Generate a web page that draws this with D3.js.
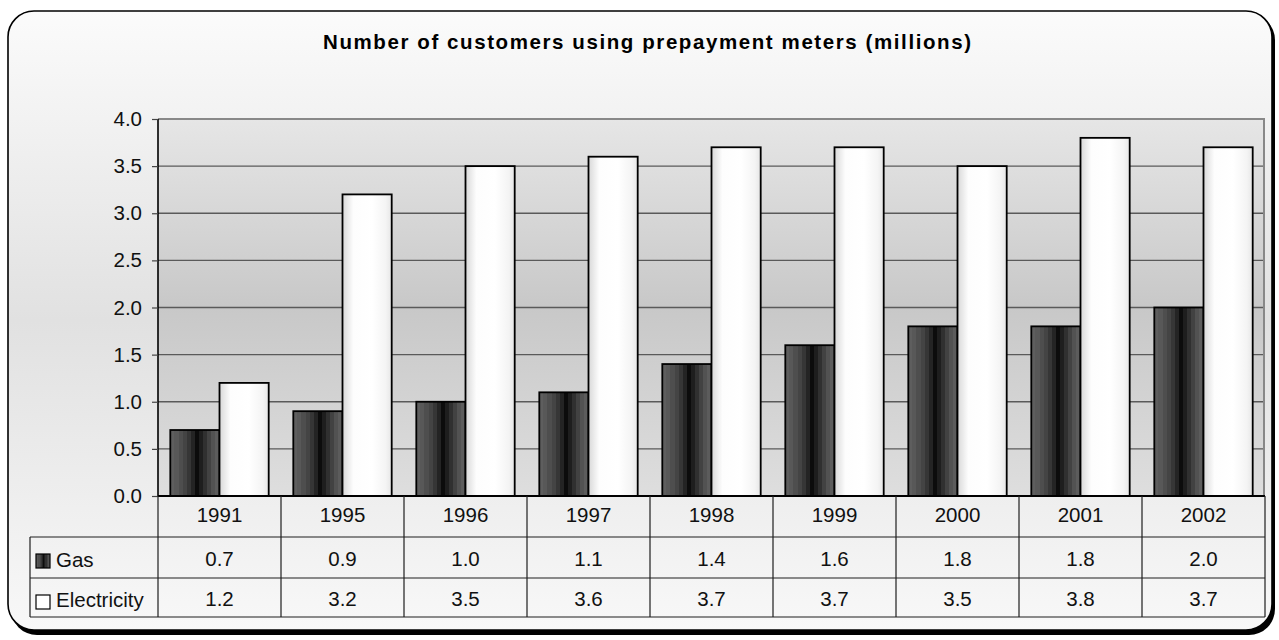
<!DOCTYPE html>
<html>
<head>
<meta charset="utf-8">
<script src="https://cdn.jsdelivr.net/npm/d3@7"></script>
<style>
  html, body { margin: 0; padding: 0; background: #ffffff; }
  svg { display: block; }
  text { font-family: "Liberation Sans", Arial, sans-serif; }
</style>
</head>
<body>
<svg id="chart" width="1279" height="640"></svg>
<script>
// ---------- data ----------
const categories = ["1991", "1995", "1996", "1997", "1998", "1999", "2000", "2001", "2002"];
const gasValues = [0.7, 0.9, 1.0, 1.1, 1.4, 1.6, 1.8, 1.8, 2.0];
const electricityValues = [1.2, 3.2, 3.5, 3.6, 3.7, 3.7, 3.5, 3.8, 3.7];
const seriesNames = ["Gas", "Electricity"];
const yTicks = [0, 0.5, 1.0, 1.5, 2.0, 2.5, 3.0, 3.5, 4.0];
const titleText = "Number of customers using prepayment meters (millions)";

const series = [
  { name: seriesNames[0], values: gasValues, fill: "url(#gasGrad)" },
  { name: seriesNames[1], values: electricityValues, fill: "url(#elecGrad)" }
];

// ---------- layout ----------
const plot = { left: 158, right: 1265, top: 119, bottom: 496 };
const table = { left: 30, rows: [496, 537, 578, 617] };
const FS = 20.5;

const svg = d3.select("#chart");
const defs = svg.append("defs");

function vGrad(id, stops) {
  const g = defs.append("linearGradient").attr("id", id)
    .attr("x1", 0).attr("y1", 0).attr("x2", 0).attr("y2", 1);
  stops.forEach(s => g.append("stop").attr("offset", s[0]).attr("stop-color", s[1]));
}
function hGrad(id, stops) {
  const g = defs.append("linearGradient").attr("id", id)
    .attr("x1", 0).attr("y1", 0).attr("x2", 1).attr("y2", 0);
  stops.forEach(s => g.append("stop").attr("offset", s[0]).attr("stop-color", s[1]));
}
function stepGrad(id, colors) {
  const g = defs.append("linearGradient").attr("id", id)
    .attr("x1", 0).attr("y1", 0).attr("x2", 1).attr("y2", 0);
  const n = colors.length;
  colors.forEach((c, i) => {
    g.append("stop").attr("offset", i / n).attr("stop-color", c);
    g.append("stop").attr("offset", (i + 1) / n).attr("stop-color", c);
  });
}

vGrad("bgGrad", [[0, "#fbfbfb"], [0.5, "#e1e1e1"], [1, "#f8f8f8"]]);
vGrad("plotGrad", [[0, "#e6e6e6"], [0.5, "#c8c8c8"], [1, "#dedede"]]);
stepGrad("gasGrad", ["#5e5e5e", "#585858", "#4e4e4e", "#444444", "#363636", "#242424",
                     "#0c0c0c", "#1e1e1e", "#303030", "#424242", "#525252", "#5c5c5c"]);
hGrad("elecGrad", [[0, "#d8d8d8"], [0.22, "#fdfdfd"], [0.6, "#ffffff"], [0.88, "#f4f4f4"], [1, "#e6e6e6"]]);

// ---------- frame ----------
svg.append("rect").attr("x", 11).attr("y", 14).attr("width", 1264).attr("height", 621)
  .attr("rx", 26).attr("fill", "#000");
svg.append("rect").attr("x", 8).attr("y", 11).attr("width", 1264).attr("height", 619)
  .attr("rx", 26).attr("fill", "url(#bgGrad)").attr("stroke", "#000").attr("stroke-width", 1.6);

// ---------- title ----------
svg.append("text")
  .attr("x", 647).attr("y", 49)
  .attr("text-anchor", "middle")
  .attr("font-size", 20.5).attr("font-weight", "bold").attr("fill", "#000")
  .attr("textLength", 648).attr("lengthAdjust", "spacing")
  .text(titleText);

// ---------- scales ----------
const x = d3.scaleBand().domain(categories).range([plot.left, plot.right]).paddingInner(0).paddingOuter(0);
const x1 = d3.scaleBand().domain(seriesNames).range([0, x.bandwidth()]).paddingInner(0).paddingOuter(0.25);
const y = d3.scaleLinear().domain([0, 4]).range([plot.bottom, plot.top]);

// plot background
svg.append("rect").attr("x", plot.left).attr("y", plot.top)
  .attr("width", plot.right - plot.left).attr("height", plot.bottom - plot.top)
  .attr("fill", "url(#plotGrad)");

// gridlines
svg.append("g").selectAll("line").data(yTicks.filter(t => t > 0)).join("line")
  .attr("x1", plot.left).attr("x2", plot.right)
  .attr("y1", d => y(d)).attr("y2", d => y(d))
  .attr("stroke", "#5a5a5a").attr("stroke-width", 1.3);

// plot border top/right
svg.append("path")
  .attr("d", `M${plot.left},${y(4)}H${plot.right - 1}V${plot.bottom}`)
  .attr("fill", "none").attr("stroke", "#888").attr("stroke-width", 2);

// y axis
const yAxis = svg.append("g").attr("transform", `translate(${plot.left},0)`)
  .call(d3.axisLeft(y).tickValues(yTicks).tickFormat(d3.format(".1f")).tickSize(6).tickPadding(10));
yAxis.select(".domain").attr("stroke", "#000").attr("stroke-width", 1.6).attr("d", `M0,${plot.top}V${plot.bottom}`);
yAxis.selectAll(".tick line").attr("stroke", "#444").attr("stroke-width", 1.2);
yAxis.selectAll(".tick text").attr("font-size", FS).attr("fill", "#111")
  .attr("font-family", "'Liberation Sans', Arial, sans-serif");

// bars
const groups = svg.append("g").selectAll("g").data(series).join("g");
groups.selectAll("rect").data(s => s.values.map((v, i) => ({ name: s.name, fill: s.fill, v, c: categories[i] })))
  .join("rect")
  .attr("x", d => x(d.c) + x1(d.name))
  .attr("width", x1.bandwidth())
  .attr("y", d => y(d.v))
  .attr("height", d => y(0) - y(d.v))
  .attr("fill", d => d.fill)
  .attr("stroke", "#000").attr("stroke-width", 1.8);

// x axis line
svg.append("line").attr("x1", plot.left).attr("x2", plot.right)
  .attr("y1", plot.bottom).attr("y2", plot.bottom)
  .attr("stroke", "#000").attr("stroke-width", 2);

// ---------- data table ----------
const tg = svg.append("g").attr("stroke", "#1e1e1e").attr("stroke-width", 1.2);
[table.rows[1], table.rows[2], table.rows[3]].forEach(yy => {
  tg.append("line").attr("x1", table.left).attr("x2", plot.right).attr("y1", yy).attr("y2", yy);
});
const boundaries = categories.map(c => x(c)).concat([plot.right]);
tg.selectAll("line.v").data(boundaries).join("line").attr("class", "v")
  .attr("x1", d => d).attr("x2", d => d)
  .attr("y1", table.rows[0]).attr("y2", table.rows[3]);
tg.append("line").attr("x1", table.left).attr("x2", table.left)
  .attr("y1", table.rows[1]).attr("y2", table.rows[3]);

const fmt = d3.format(".1f");
const txt = svg.append("g").attr("font-size", FS).attr("fill", "#111").attr("text-anchor", "middle");
txt.selectAll("text.cat").data(categories).join("text").attr("class", "cat")
  .attr("x", d => x(d) + x.bandwidth() / 2).attr("y", 522).text(d => d);
txt.selectAll("text.gas").data(gasValues).join("text").attr("class", "gas")
  .attr("x", (d, i) => x(categories[i]) + x.bandwidth() / 2).attr("y", 566).text(d => fmt(d));
txt.selectAll("text.elec").data(electricityValues).join("text").attr("class", "elec")
  .attr("x", (d, i) => x(categories[i]) + x.bandwidth() / 2).attr("y", 606).text(d => fmt(d));

// legend keys in table
const leg = svg.append("g");
series.forEach((s, i) => {
  const rowTop = table.rows[i + 1];
  leg.append("rect").attr("x", 36).attr("y", rowTop + 17).attr("width", 14).attr("height", 14)
    .attr("fill", i === 0 ? "url(#gasGrad)" : "#fff").attr("stroke", "#000").attr("stroke-width", 1.2);
  leg.append("text").attr("x", 56).attr("y", i === 0 ? 567 : 607)
    .attr("font-size", FS).attr("fill", "#111").text(s.name);
});
</script>
</body>
</html>
